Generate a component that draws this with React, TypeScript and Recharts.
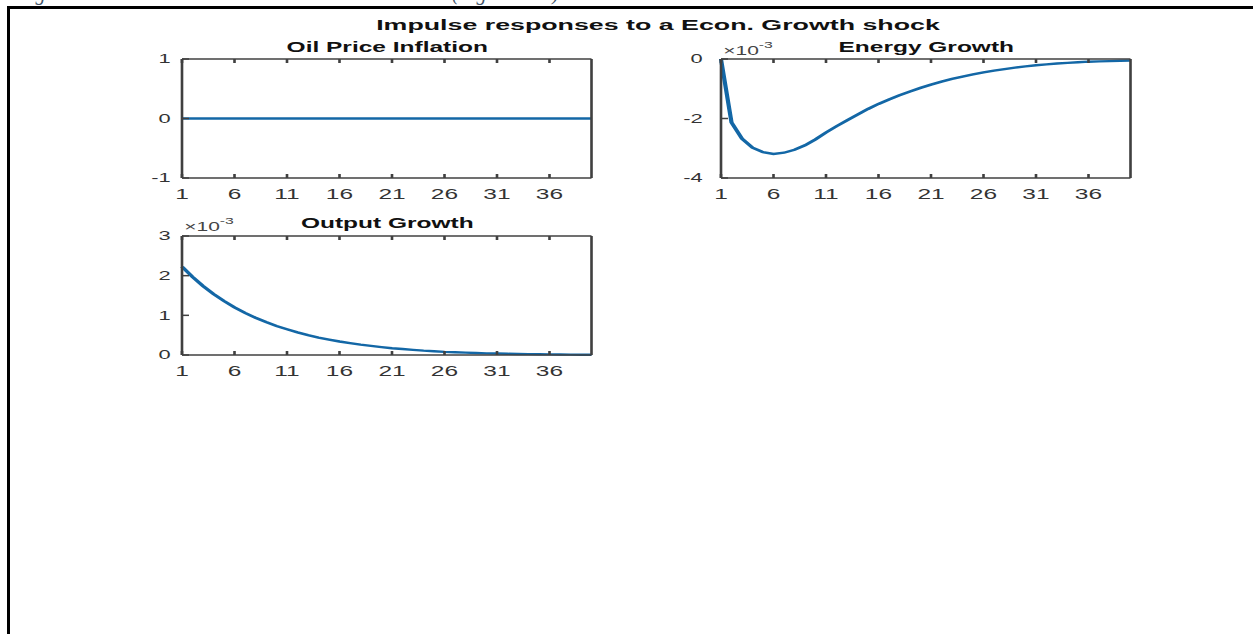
import { LineChart, Line, XAxis, YAxis } from 'recharts';

// horizons of the impulse responses
const periods = [
  1, 2, 3, 4, 5, 6, 7, 8, 9, 10, 11, 12, 13, 14, 15, 16, 17, 18, 19, 20,
  21, 22, 23, 24, 25, 26, 27, 28, 29, 30, 31, 32, 33, 34, 35, 36, 37, 38, 39, 40,
];
const xTicks = [1, 6, 11, 16, 21, 26, 31, 36];

const oilPriceInflation = [
  0, 0, 0, 0, 0, 0, 0, 0, 0, 0, 0, 0, 0, 0, 0, 0, 0, 0, 0, 0,
  0, 0, 0, 0, 0, 0, 0, 0, 0, 0, 0, 0, 0, 0, 0, 0, 0, 0, 0, 0,
];
// in units of 10^-3
const energyGrowth = [
  0, -2.13, -2.68, -2.98, -3.13, -3.19, -3.15, -3.05, -2.9, -2.7,
  -2.47, -2.26, -2.06, -1.87, -1.68, -1.51, -1.36, -1.22, -1.09, -0.97,
  -0.86, -0.76, -0.67, -0.59, -0.52, -0.45, -0.39, -0.34, -0.29, -0.25,
  -0.21, -0.18, -0.15, -0.13, -0.11, -0.09, -0.08, -0.07, -0.06, -0.05,
];
// in units of 10^-3
const outputGrowth = [
  2.23, 1.97, 1.74, 1.54, 1.36, 1.2, 1.06, 0.94, 0.83, 0.73,
  0.65, 0.57, 0.5, 0.44, 0.39, 0.34, 0.3, 0.26, 0.23, 0.2,
  0.17, 0.15, 0.13, 0.11, 0.095, 0.08, 0.07, 0.06, 0.05, 0.042,
  0.036, 0.03, 0.026, 0.022, 0.018, 0.015, 0.012, 0.01, 0.008, 0.007,
];

const oilTicks = [-1, 0, 1];
const energyTicks = [-4, -2, 0];
const outputTicks = [0, 1, 2, 3];

const SX = 1.75; // the exported figure is stretched horizontally
const FONT = '"Liberation Sans", Arial, Helvetica, sans-serif';
const SERIF = '"Liberation Serif", "Times New Roman", serif';
const AXIS = '#404040';
const LABEL = '#333';
const BLUE = '#1367a6';

const PLOT_W = 234;
const PLOT_H = 119;
const Y_W = 30;
const X_H = 26;
const PAD = 10;

const noLabel = () => <g />;

function Panel({ left, top, values, domain, ticks, labelGap }: {
  left: number;
  top: number;
  values: number[];
  domain: [number, number];
  ticks: number[];
  labelGap: number;
}) {
  const data = periods.map((t, i) => ({ t, v: values[i] }));
  const line = { stroke: AXIS, strokeWidth: 1.5 };
  return (
    <div style={{ position: 'absolute', left: left - Y_W, top: top - PAD }}>
      <LineChart
        width={Y_W + PLOT_W + 1 + PAD}
        height={PAD + PLOT_H + X_H}
        data={data}
        margin={{ top: PAD - 1, right: PAD, bottom: 0, left: 0 }}
      >
        <XAxis
          xAxisId="b" dataKey="t" type="number" domain={[1, 40]} ticks={xTicks} interval={0}
          height={X_H} tickSize={-4} tickMargin={15} axisLine={line} tickLine={line}
          tick={{ fill: LABEL, fontSize: 14, fontFamily: FONT }}
        />
        <XAxis
          xAxisId="t" orientation="top" dataKey="t" type="number" domain={[1, 40]} ticks={xTicks} interval={0}
          height={1} tickSize={-4} tickMargin={0} axisLine={line} tickLine={line} tick={noLabel}
        />
        <YAxis
          yAxisId="l" type="number" domain={domain} ticks={ticks} interval={0}
          width={Y_W} tickSize={-4} tickMargin={4 + labelGap} axisLine={line} tickLine={line}
          tick={{ fill: LABEL, fontSize: 12.5, fontFamily: FONT }}
        />
        <YAxis
          yAxisId="r" orientation="right" type="number" domain={domain} ticks={ticks} interval={0}
          width={1} tickSize={-4} tickMargin={0} axisLine={line} tickLine={line} tick={noLabel}
        />
        <Line
          xAxisId="b" yAxisId="l" type="linear" dataKey="v" stroke={BLUE} strokeWidth={2.4}
          dot={false} activeDot={false} isAnimationActive={false}
        />
      </LineChart>
    </div>
  );
}

function Exponent({ x, y }: { x: number; y: number }) {
  return (
    <text x={x} y={y} fill="#444" fontSize={12} fontFamily={FONT}>
      ×10<tspan dy={-7} fontSize={9}>-3</tspan>
    </text>
  );
}

export default function App() {
  const leftCol = 104.3;
  const rightCol = 412.3;
  const titleStyle = { fontFamily: FONT, fontWeight: 700, fill: '#111' };
  return (
    <div style={{ position: 'absolute', left: 0, top: 0, width: 1253, height: 634, overflow: 'hidden', background: '#fff' }}>
      <svg width={1253} height={6} style={{ position: 'absolute', left: 0, top: 0 }}>
        <text x={14} y={0} fontSize={20} fontStyle="italic" fontFamily={SERIF} fill="#44546A" textLength={430} lengthAdjust="spacing">
          Figure 4.9: IRFs to the Econ. Growth shock
        </text>
        <text x={452} y={0} fontSize={20} fontStyle="italic" fontFamily={SERIF} fill="#44546A">
          (Figure 4.10)
        </text>
      </svg>
      <div style={{ position: 'absolute', left: 7, top: 6, width: 1300, height: 700, borderLeft: '3px solid #000', borderTop: '3px solid #000' }} />
      <div style={{ position: 'absolute', left: 0, top: 0, width: 1253 / SX, height: 634, transform: `scaleX(${SX})`, transformOrigin: '0 0' }}>
        <Panel left={leftCol} top={59} values={oilPriceInflation} domain={[-1, 1]} ticks={oilTicks} labelGap={6.5} />
        <Panel left={rightCol} top={59} values={energyGrowth} domain={[-4, 0]} ticks={energyTicks} labelGap={10.5} />
        <Panel left={leftCol} top={236} values={outputGrowth} domain={[0, 3]} ticks={outputTicks} labelGap={6.5} />
        <svg width={1253 / SX} height={634} style={{ position: 'absolute', left: 0, top: 0, pointerEvents: 'none' }}>
          <text x={376} y={30} textAnchor="middle" fontSize={15.3} {...titleStyle}>
            Impulse responses to a Econ. Growth shock
          </text>
          <text x={leftCol + PLOT_W / 2} y={52} textAnchor="middle" fontSize={14} {...titleStyle}>
            Oil Price Inflation
          </text>
          <text x={rightCol + PLOT_W / 2} y={52} textAnchor="middle" fontSize={14} {...titleStyle}>
            Energy Growth
          </text>
          <text x={leftCol + PLOT_W / 2} y={228} textAnchor="middle" fontSize={14} {...titleStyle}>
            Output Growth
          </text>
          <Exponent x={rightCol + 1} y={55} />
          <Exponent x={leftCol + 1} y={231} />
        </svg>
      </div>
    </div>
  );
}
